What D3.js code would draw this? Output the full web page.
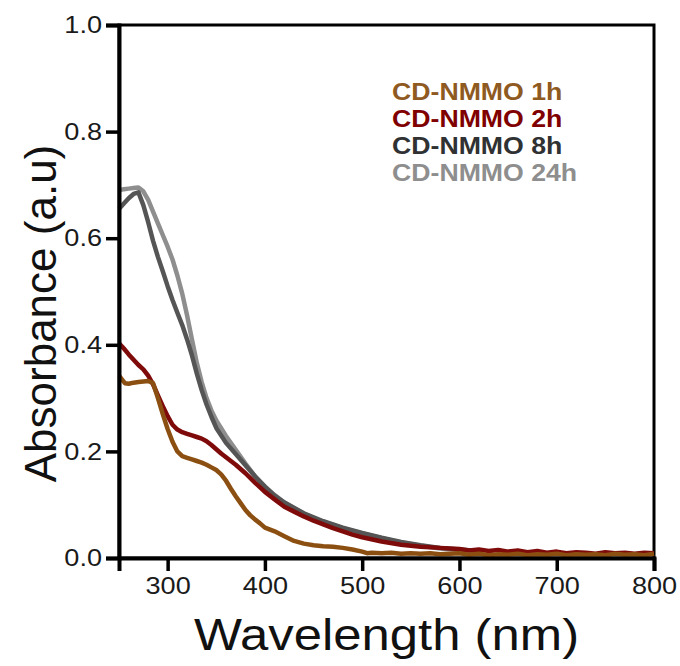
<!DOCTYPE html>
<html>
<head>
<meta charset="utf-8">
<script src="https://cdn.jsdelivr.net/npm/d3@7"></script>
<style>
  html, body { margin: 0; padding: 0; background: #fff; }
  svg { display: block; font-family: "Liberation Sans", Arial, sans-serif; }
</style>
</head>
<body>
<svg id="chart" width="680" height="666"></svg>
<script>
// ---- Data ----
const xTicks = [300, 400, 500, 600, 700, 800];
const yTicks = [0.0, 0.2, 0.4, 0.6, 0.8, 1.0];
const seriesNames = ["CD-NMMO 1h", "CD-NMMO 2h", "CD-NMMO 8h", "CD-NMMO 24h"];

const wl24h = [250,255,260,265,270,275,280,285,290,295,300,305,310,315,320,325,330,335,340,345,350,360,370,380,390,400,410,420,440,460,480,500,520,540,560,580,600];
const abs24h = [0.690,0.692,0.693,0.694,0.695,0.688,0.672,0.650,0.628,0.606,0.584,0.560,0.530,0.496,0.455,0.410,0.366,0.330,0.300,0.277,0.258,0.229,0.203,0.177,0.153,0.134,0.118,0.104,0.083,0.068,0.056,0.046,0.037,0.029,0.023,0.018,0.015];

const wl8h = [250,255,260,265,270,275,280,285,290,295,300,305,310,315,320,325,330,335,340,345,350,360,370,380,390,400,410,420,440,460,480,500,520,540,560,580,600,620];
const abs8h = [0.655,0.665,0.675,0.683,0.686,0.662,0.630,0.595,0.565,0.538,0.510,0.484,0.460,0.437,0.410,0.380,0.346,0.315,0.288,0.265,0.244,0.216,0.195,0.174,0.153,0.134,0.117,0.104,0.084,0.069,0.057,0.047,0.038,0.030,0.024,0.019,0.016,0.013];

const wl2h = [250,255,260,265,270,275,280,285,290,295,300,305,310,315,320,325,330,335,340,345,350,355,360,370,380,390,400,410,420,430,440,450,460,470,480,490,500,520,540,560,580,600,610,620,630,640,650,660,670,680,690,700,710,720,730,740,750,760,770,780,790,800];
const abs2h = [0.403,0.393,0.382,0.372,0.362,0.354,0.342,0.326,0.305,0.285,0.266,0.250,0.241,0.236,0.233,0.230,0.227,0.224,0.219,0.212,0.204,0.196,0.189,0.175,0.159,0.141,0.124,0.110,0.096,0.087,0.078,0.070,0.063,0.056,0.050,0.044,0.039,0.031,0.025,0.021,0.019,0.017,0.014,0.016,0.013,0.015,0.012,0.014,0.011,0.013,0.010,0.012,0.009,0.011,0.010,0.008,0.011,0.009,0.010,0.008,0.010,0.009];

const wl1h = [250,253,256,260,265,270,275,280,285,290,295,300,305,310,315,320,325,330,335,340,345,350,355,360,365,370,375,380,385,390,395,400,410,420,430,440,450,460,470,480,490,500,505,510,520,530,540,550,560,570,580,590,600,610,620,630,640,650,660,670,680,690,700,710,720,730,740,750,760,770,780,790,800];
const abs1h = [0.342,0.335,0.328,0.327,0.329,0.330,0.331,0.332,0.328,0.300,0.270,0.242,0.218,0.200,0.191,0.188,0.185,0.182,0.179,0.175,0.170,0.165,0.157,0.145,0.130,0.116,0.103,0.090,0.080,0.072,0.065,0.057,0.050,0.041,0.032,0.027,0.024,0.022,0.021,0.019,0.016,0.012,0.009,0.010,0.009,0.010,0.008,0.009,0.008,0.009,0.007,0.008,0.009,0.006,0.008,0.005,0.007,0.006,0.008,0.005,0.007,0.006,0.008,0.005,0.007,0.006,0.007,0.005,0.008,0.006,0.007,0.005,0.008];

const colors = ["#8c4f12", "#7f0a0a", "#555555", "#8e8e8e"];
const legendColors = ["#8f5a1f", "#800000", "#2f3133", "#8e8e8e"];

// ---- Layout ----
const SX = 1.13; // horizontal stretch of the text in the reference
const svg = d3.select("#chart");
const L = 119, R = 654, T = 25, B = 558;
const x = d3.scaleLinear().domain([250, 800]).range([L, R]);
const y = d3.scaleLinear().domain([0, 1.0]).range([B, T]);

// frame (box)
svg.append("rect")
  .attr("x", L).attr("y", T).attr("width", R - L).attr("height", B - T)
  .attr("fill", "none").attr("stroke", "#000").attr("stroke-width", 3);

// lines
const series = [
  {wl: wl24h, a: abs24h, c: colors[3]},
  {wl: wl8h, a: abs8h, c: colors[2]},
  {wl: wl2h, a: abs2h, c: colors[1]},
  {wl: wl1h, a: abs1h, c: colors[0]}
];
const line = d3.line().x(d => x(d[0])).y(d => y(d[1]));
series.forEach(s => {
  svg.append("path")
    .datum(s.wl.map((w, i) => [w, s.a[i]]))
    .attr("d", line)
    .attr("fill", "none")
    .attr("stroke", s.c)
    .attr("stroke-width", 4.5)
    .attr("stroke-linejoin", "round");
});

// axes
const xAxis = svg.append("g").attr("transform", `translate(0,${B})`)
  .call(d3.axisBottom(x).tickValues(xTicks).tickSize(13).tickPadding(6).tickFormat(d3.format("d")));
const yAxis = svg.append("g").attr("transform", `translate(${L},0)`)
  .call(d3.axisLeft(y).tickValues(yTicks).tickSize(13).tickPadding(2).tickFormat(d3.format(".1f")));
[xAxis, yAxis].forEach(g => {
  g.select(".domain").attr("stroke-width", 4);
  g.selectAll(".tick line").attr("stroke-width", 3.5);
  g.selectAll(".tick text").attr("font-size", 24).attr("fill", "#1a1a1a")
    .attr("font-family", "'Liberation Sans', Arial, sans-serif")
    .attr("transform", `scale(${SX},1)`);
});

// axis titles
svg.append("text")
  .attr("transform", `translate(${(L + R) / 2 + 0},650) scale(${SX},1)`)
  .attr("text-anchor", "middle")
  .attr("font-size", 45).attr("fill", "#111")
  .text("Wavelength (nm)");
svg.append("text")
  .attr("transform", `translate(56,${(T + B) / 2 + 22}) rotate(-90)`)
  .attr("text-anchor", "middle")
  .attr("font-size", 44).attr("fill", "#111")
  .text("Absorbance (a.u)");

// legend
seriesNames.forEach((n, i) => {
  svg.append("text")
    .attr("transform", `translate(392,${100 + i * 27}) scale(${SX + 0.03},1)`)
    .attr("font-size", 23).attr("font-weight", "bold")
    .attr("fill", legendColors[i])
    .text(n);
});
</script>
</body>
</html>
